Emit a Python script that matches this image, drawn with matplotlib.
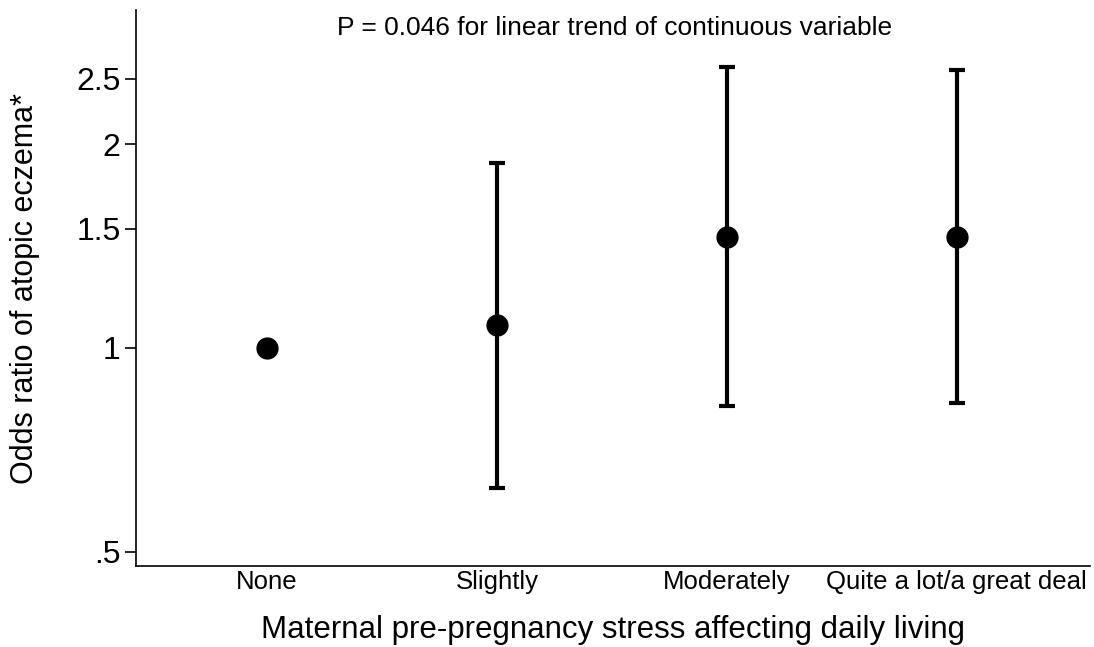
import matplotlib
matplotlib.use("Agg")
import matplotlib.pyplot as plt
import numpy as np

categories = ["None", "Slightly", "Moderately", "Quite a lot/a great deal"]
odds_ratio = [1.00, 1.08, 1.46, 1.46]
ci_low = [1.00, 0.62, 0.82, 0.83]
ci_high = [1.00, 1.88, 2.60, 2.58]
yticks = [0.5, 1, 1.5, 2, 2.5]
ytick_labels = [".5", "1", "1.5", "2", "2.5"]

plt.rcParams['font.family'] = ['Liberation Sans', 'DejaVu Sans']

W, H = 1094, 647
fig = plt.figure(figsize=(W / 100, H / 100), dpi=100)
ax_l, ax_r, ax_b, ax_t = 136, 1090, 566, 10
ax = fig.add_axes([ax_l / W, (H - ax_b) / H, (ax_r - ax_l) / W, (ax_b - ax_t) / H])

x = np.arange(1, len(categories) + 1)
or_arr = np.array(odds_ratio)
lo = or_arr - np.array(ci_low)
hi = np.array(ci_high) - or_arr
has_ci = (lo > 0) | (hi > 0)

ax.errorbar(x[has_ci], or_arr[has_ci], yerr=[lo[has_ci], hi[has_ci]], fmt='none',
            ecolor='black', elinewidth=3, capsize=6, capthick=3, zorder=2)
ax.plot(x, or_arr, 'o', color='black', markersize=15, zorder=3)

ax.set_yscale('log')
ax.set_ylim(0.476, 3.16)
ax.set_xlim(0.43, 4.58)
ax.set_yticks(yticks)
ax.set_yticklabels(ytick_labels)
ax.yaxis.set_minor_locator(matplotlib.ticker.NullLocator())
ax.set_xticks(x)
ax.set_xticklabels(categories)

ax.tick_params(axis='y', labelsize=23, length=8, width=1.2, pad=3)
ax.tick_params(axis='x', labelsize=18.5, length=0, pad=3)

for s in ['top', 'right']:
    ax.spines[s].set_visible(False)
for s in ['left', 'bottom']:
    ax.spines[s].set_linewidth(1.2)

ax.set_ylabel("Odds ratio of atopic eczema*", fontsize=22)
ax.set_xlabel("Maternal pre-pregnancy stress affecting daily living", fontsize=22.5)
ax.yaxis.label.set_va('center')
ax.xaxis.label.set_va('center')
ax.yaxis.set_label_coords((25 - ax_l) / (ax_r - ax_l), 0.5)
ax.xaxis.set_label_coords(0.5, -(630 - ax_b) / (ax_b - ax_t))
ax.xaxis.label.set_x((613 - ax_l) / (ax_r - ax_l))

ax.text((615 - ax_l) / (ax_r - ax_l), 1 - (28 - ax_t) / (ax_b - ax_t),
        "P = 0.046 for linear trend of continuous variable",
        transform=ax.transAxes, ha='center', va='center', fontsize=19)

fig.savefig("out.png", dpi=100)
